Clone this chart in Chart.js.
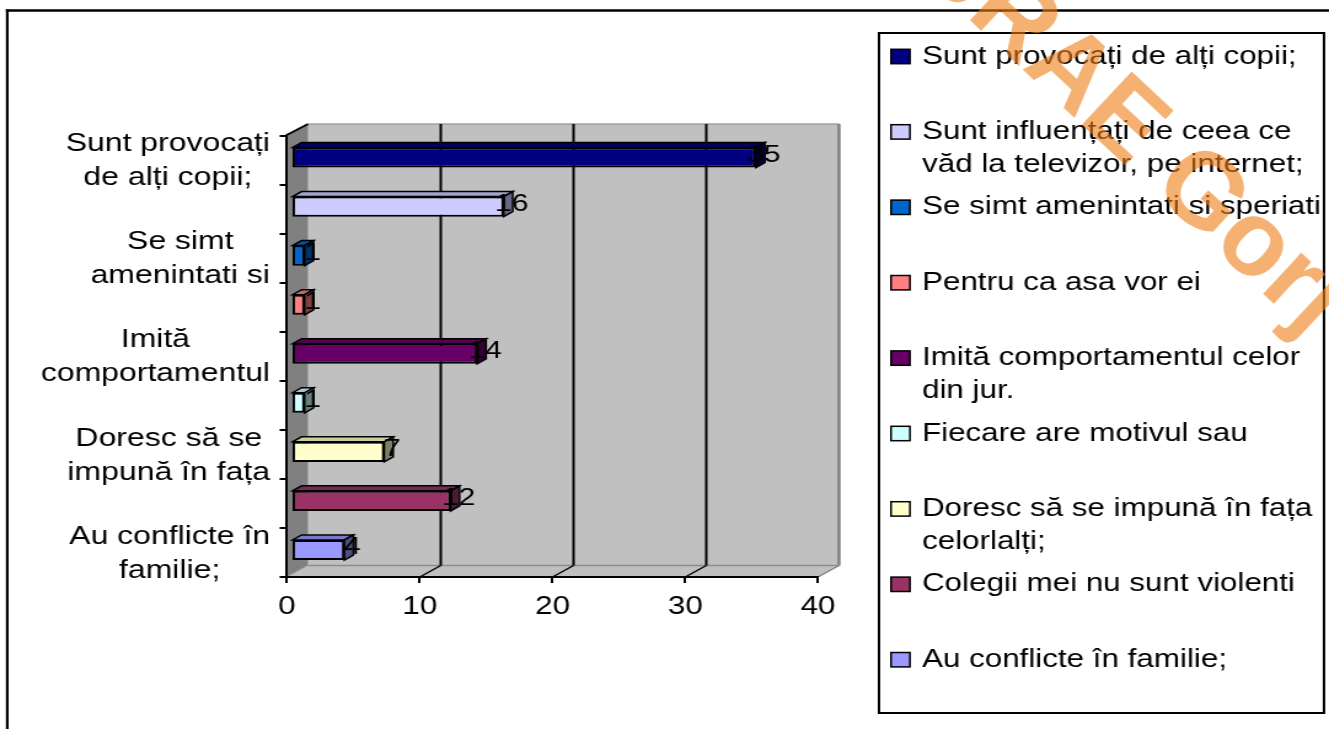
<!DOCTYPE html>
<html lang="ro">
<head>
<meta charset="UTF-8" />
<title>De ce sunt violenți copiii</title>
<script src="https://cdn.jsdelivr.net/npm/chart.js@4.4.1/dist/chart.umd.min.js"></script>
<style>
   html, body { margin: 0; padding: 0; background: #fff; overflow: hidden; }
</style>
</head>
<body>
<!-- inline size so Chart.js keeps it: the canvas is drawn narrow and stretched like the original -->
<canvas id="chart" width="1081" height="729" style="display:block;width:1329px;height:729px"></canvas>
<script>
// answers (legend order = bar order, top to bottom)
const categories = [
   'Sunt provocați de alți copii;',
   'Sunt influențați de ceea ce văd la televizor, pe internet;',
   'Se simt amenintati si speriati',
   'Pentru ca asa vor ei',
   'Imită comportamentul celor din jur.',
   'Fiecare are motivul sau',
   'Doresc să se impună în fața celorlalți;',
   'Colegii mei nu sunt violenti',
   'Au conflicte în familie;'
];
const values = [35, 16, 1, 1, 14, 1, 7, 12, 4];
// the category axis only shows every other label, cut to two lines
const axisLabels = [
   ['Sunt provocați', 'de alți copii;'], null,
   ['Se simt', 'amenintati si'], null,
   ['Imită', 'comportamentul'], null,
   ['Doresc să se', 'impună în fața'], null,
   ['Au conflicte în', 'familie;']
];
const xTicks = [0, 10, 20, 30, 40];
const barColors = ['#000080', '#ccccff', '#0066cc', '#ff8080', '#660066', '#ccffff', '#ffffcc', '#993366', '#9999ff'];
const watermark = 'CJRAE Gorj';

const FONT = '"Liberation Sans", Arial, sans-serif';
const SX = 1329 / 1081;                       // the old picture is stretched sideways
const DEPTH = { x: 21 / SX, y: -11.5 };       // back wall offset
const BAR_SHIFT = { x: 4.3 / SX, y: -2.5 };
const BAR_DEPTH = { x: 9 / SX, y: -5 };

function shade(hex, f) {
   const n = parseInt(hex.slice(1), 16);
   const r = Math.round(((n >> 16) & 255) * f);
   const g = Math.round(((n >> 8) & 255) * f);
   const b = Math.round((n & 255) * f);
   return `rgb(${r},${g},${b})`;
}

function poly(ctx, pts, fill, stroke, lw) {
   ctx.beginPath();
   ctx.moveTo(pts[0][0], pts[0][1]);
   for (let i = 1; i < pts.length; i++) ctx.lineTo(pts[i][0], pts[i][1]);
   ctx.closePath();
   if (fill) { ctx.fillStyle = fill; ctx.fill(); }
   if (stroke) { ctx.strokeStyle = stroke; ctx.lineWidth = lw || 1; ctx.stroke(); }
}

function line(ctx, x1, y1, x2, y2, color, lw) {
   ctx.beginPath();
   ctx.moveTo(x1, y1);
   ctx.lineTo(x2, y2);
   ctx.strokeStyle = color;
   ctx.lineWidth = lw;
   ctx.stroke();
}

function wrap(ctx, text, maxWidth) {
   const words = text.split(' ');
   const lines = [];
   let cur = '';
   words.forEach(w => {
      const test = cur ? cur + ' ' + w : w;
      if (cur && ctx.measureText(test).width > maxWidth) {
         lines.push(cur);
         cur = w;
      } else {
         cur = test;
      }
   });
   if (cur) lines.push(cur);
   return lines;
}

const box3d = {
   id: 'box3d',
   beforeDraw(chart) {
      const { ctx, chartArea: a, scales: { x } } = chart;
      const L = a.left, R = a.right, T = a.top, B = a.bottom, dx = DEPTH.x, dy = DEPTH.y;
      ctx.save();
      // outer frame (only top and left are in the picture)
      line(ctx, 4.8, 10.5, chart.width, 10.5, '#000', 2.5);
      line(ctx, 5.9, 9.3, 5.9, chart.height, '#000', 2.2);

      // back wall
      poly(ctx, [[L + dx, T + dy], [R + dx, T + dy], [R + dx, B + dy], [L + dx, B + dy]], '#c0c0c0');
      line(ctx, L + dx, T + dy, R + dx, T + dy, '#a0a0a0', 1.5);
      line(ctx, R + dx, T + dy, R + dx, B + dy, '#808080', 2.5);
      // floor
      poly(ctx, [[L, B], [R, B], [R + dx, B + dy], [L + dx, B + dy]], '#c0c0c0');
      line(ctx, L + dx, B + dy, R + dx, B + dy, '#8c8c8c', 1.5);
      line(ctx, R, B, R + dx, B + dy, '#808080', 1.5);
      // left wall
      poly(ctx, [[L, T], [L + dx, T + dy], [L + dx, B + dy], [L, B]], '#808080');
      line(ctx, L + dx, T + dy, L + dx, B + dy, '#a8a8a8', 1);
      line(ctx, L, B, L + dx, B + dy, '#a8a8a8', 1);

      // grid lines on the back wall and floor
      xTicks.forEach(v => {
         if (v <= xTicks[0] || v >= xTicks[xTicks.length - 1]) return;
         const px = x.getPixelForValue(v);
         line(ctx, px + dx, T + dy, px + dx, B + dy, '#000', 2);
         line(ctx, px, B, px + dx, B + dy, '#000', 1.5);
      });
      line(ctx, L - 1, T, L + dx, T + dy, '#000', 2);
      ctx.restore();
   },
   beforeDatasetsDraw(chart) {
      chart.ctx.save();
      chart.ctx.translate(BAR_SHIFT.x, BAR_SHIFT.y);
   },
   afterDatasetsDraw(chart) {
      const ctx = chart.ctx;
      const meta = chart.getDatasetMeta(0);
      const bx = BAR_DEPTH.x, by = BAR_DEPTH.y;
      meta.data.forEach((bar, i) => {
         const { x, y, base, height } = bar.getProps(['x', 'y', 'base', 'height'], true);
         const top = y - height / 2, bot = y + height / 2;
         const c = barColors[i];
         poly(ctx, [[base, top], [x, top], [x + bx, top + by], [base + bx, top + by]], shade(c, 0.8), '#000', 1.5);
         poly(ctx, [[x, top], [x + bx, top + by], [x + bx, bot + by], [x, bot]], shade(c, 0.5), '#000', 1.5);
      });
      ctx.fillStyle = '#000';
      ctx.font = `24.5px ${FONT}`;
      ctx.textAlign = 'center';
      ctx.textBaseline = 'middle';
      meta.data.forEach((bar, i) => {
         const { x, y } = bar.getProps(['x', 'y'], true);
         ctx.fillText(String(values[i]), x + 6.5, y - 2.5);
      });
      ctx.restore();
   },
   afterDraw(chart) {
      const { ctx, scales: { y } } = chart;
      ctx.save();
      // category labels: block right aligned, lines centred in the block
      ctx.font = `26px ${FONT}`;
      ctx.fillStyle = '#000';
      ctx.textAlign = 'center';
      ctx.textBaseline = 'middle';
      const rightEdge = 270 / SX;
      axisLabels.forEach((lines, i) => {
         if (!lines) return;
         const w = Math.max(...lines.map(l => ctx.measureText(l).width));
         const cy = y.getPixelForValue(i) + 1;
         lines.forEach((l, k) => {
            ctx.fillText(l, rightEdge - w / 2, cy + (k - (lines.length - 1) / 2) * 34);
         });
      });

      // legend
      const lx = 879 / SX, lr = 1324 / SX;
      ctx.strokeStyle = '#000';
      ctx.lineWidth = 2;
      ctx.strokeRect(lx, 33, lr - lx, 680);
      ctx.textAlign = 'left';
      ctx.font = `25.5px ${FONT}`;
      const textX = 922 / SX;
      categories.forEach((name, i) => {
         const ey = 56.5 + i * 75.4;
         ctx.fillStyle = barColors[i];
         ctx.fillRect(891 / SX, ey - 7.2, 15.4, 14.4);
         ctx.lineWidth = 1.5;
         ctx.strokeRect(891 / SX, ey - 7.2, 15.4, 14.4);
         ctx.fillStyle = '#000';
         wrap(ctx, name, lr - textX).forEach((l, k) => ctx.fillText(l, textX, ey + k * 33));
      });
      ctx.restore();

      // watermark, drawn in unstretched page pixels
      ctx.save();
      ctx.scale(1 / SX, 1);
      ctx.translate(1200, 195);
      ctx.rotate(43 * Math.PI / 180);
      ctx.font = `bold 106px ${FONT}`;
      ctx.fillStyle = 'rgba(238,125,20,0.6)';
      ctx.textBaseline = 'middle';
      ctx.textAlign = 'left';
      const pre = ctx.measureText('CJRAE ').width;
      const g = ctx.measureText('G').width;
      ctx.fillText(watermark, -pre - g / 2, 0);
      ctx.restore();
   }
};

const ctx = document.getElementById('chart').getContext('2d');
const chart = new Chart(ctx, {
   type: 'bar',
   data: {
      labels: categories,
      datasets: [
         {
            data: values,
            backgroundColor: barColors,
            borderColor: '#000',
            borderWidth: 2,
            borderSkipped: false,
            barPercentage: 0.41,
            categoryPercentage: 1
         }
      ]
   },
   options: {
      indexAxis: 'y',
      responsive: false,
      animation: false,
      devicePixelRatio: 1,
      layout: { padding: { left: 0, top: 135.5, right: 1081 - 818 / SX, bottom: 0 } },
      plugins: {
         legend: { display: false },
         tooltip: { enabled: false }
      },
      scales: {
         x: {
            min: xTicks[0],
            max: xTicks[xTicks.length - 1],
            afterBuildTicks: scale => { scale.ticks = xTicks.map(v => ({ value: v })); },
            ticks: { color: '#000', font: { family: FONT, size: 25.5 }, padding: 9 },
            grid: { drawOnChartArea: false, color: '#000', lineWidth: 2, tickLength: 6 },
            border: { color: '#000', width: 2 },
            afterFit: scale => { scale.height = 152; }
         },
         y: {
            ticks: { display: false },
            grid: { drawOnChartArea: false, color: '#000', lineWidth: 2, tickLength: 6, offset: true },
            border: { color: '#000', width: 2 },
            afterFit: scale => { scale.width = 287 / SX; }
         }
      }
   },
   plugins: [box3d]
});
</script>
</body>
</html>
